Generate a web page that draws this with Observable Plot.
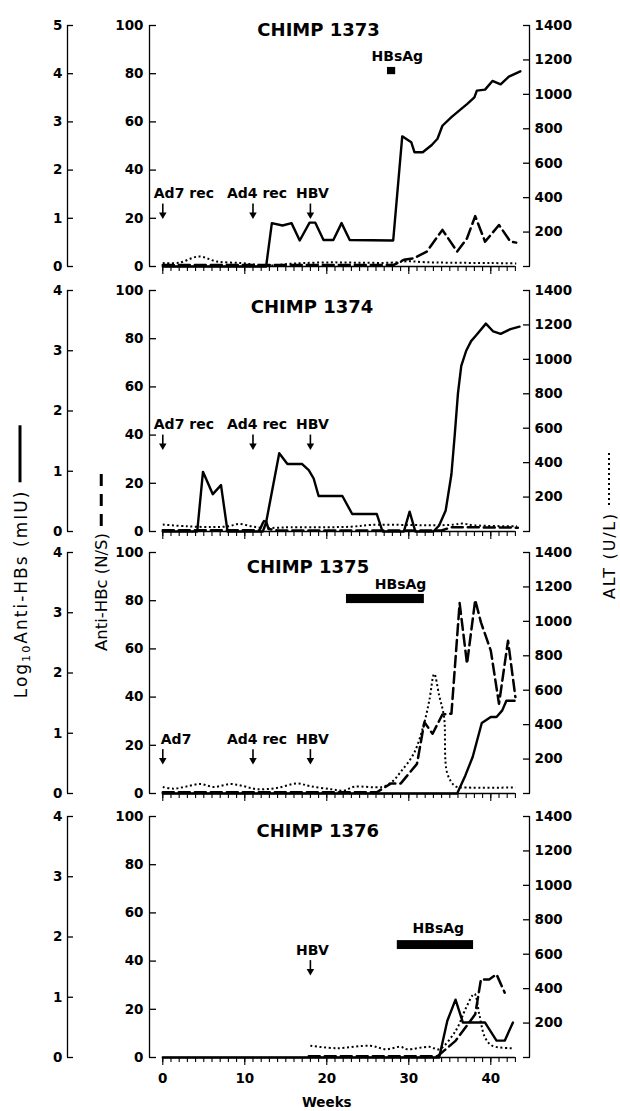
<!DOCTYPE html>
<html>
<head>
<meta charset="utf-8">
<script src="https://cdn.jsdelivr.net/npm/d3@7"></script>
<script src="https://cdn.jsdelivr.net/npm/@observablehq/plot@0.6"></script>
<style>
  html, body { margin: 0; padding: 0; background: #fff; }
  #wrap { position: relative; width: 620px; height: 1111px; overflow: hidden; background: #fff; font-family: "DejaVu Sans", sans-serif; color: #000; }
  .panel { position: absolute; left: 0; width: 620px; }
  .vlab { position: absolute; white-space: nowrap; display: flex; align-items: center; transform: translate(-50%, -50%) rotate(-90deg); line-height: 1; }
  .vlab sub { font-size: 0.66em; vertical-align: -0.3em; line-height: 0; }
  .sym { display: inline-block; margin-left: 7px; position: relative; top: -1px; }
</style>
</head>
<body>
<div id="wrap"></div>
<script>
// ---------------- data ----------------
const chimps = ["CHIMP 1373", "CHIMP 1374", "CHIMP 1375", "CHIMP 1376"];
const weekTicks = d3.range(0, 44);
const decadeTicks = [0, 10, 20, 30, 40];
const hbcTicks = [0, 20, 40, 60, 80, 100];
const altTicks = [0, 200, 400, 600, 800, 1000, 1200, 1400];
const logTicks1373 = [0, 1, 2, 3, 4, 5];
const logTicksOther = [0, 1, 2, 3, 4];

// [week, log10 anti-HBs (mIU)]
const hbs1373 = [[0,0],[12.6,0],[13.3,0.90],[14.6,0.85],[15.7,0.90],[16.7,0.54],[17.9,0.91],[18.6,0.91],[19.6,0.55],[20.8,0.55],[21.8,0.90],[22.8,0.55],[28.1,0.54],[29.2,2.70],[30.3,2.58],[30.7,2.37],[31.7,2.37],[32.8,2.52],[33.5,2.65],[34.1,2.92],[35.2,3.10],[36.4,3.27],[37.1,3.37],[38.0,3.51],[38.3,3.65],[39.3,3.67],[40.2,3.85],[41.2,3.78],[42.2,3.94],[43.6,4.05]];
const hbs1374 = [[0,0],[4.2,0],[4.9,0.99],[6.1,0.62],[7.1,0.77],[7.9,0],[12.2,0],[12.6,0.15],[14.2,1.30],[15.2,1.12],[17.0,1.12],[17.8,1.02],[18.4,0.88],[19.0,0.59],[21.9,0.59],[23.1,0.29],[26.1,0.29],[26.8,0],[29.4,0],[30.1,0.33],[30.8,0],[33.0,0],[33.7,0.1],[34.5,0.35],[35.2,0.95],[35.6,1.6],[36.0,2.3],[36.4,2.75],[37.0,3.0],[37.6,3.16],[38.3,3.27],[39.4,3.45],[40.3,3.32],[41.2,3.28],[42.4,3.36],[43.5,3.4]];
const hbs1375 = [[0,0],[35.9,0],[36.9,0.30],[37.8,0.61],[38.9,1.17],[40.0,1.27],[40.7,1.27],[41.4,1.38],[41.9,1.54],[42.9,1.54]];
const hbs1376 = [[0,0],[33.7,0],[34.7,0.61],[35.7,0.96],[36.6,0.58],[39.3,0.58],[40.7,0.28],[41.7,0.28],[42.7,0.58]];

// [week, anti-HBc (N/S)]
const hbc1373 = [[0,0.6],[28.1,0.6],[29.4,2.8],[30.6,3.4],[32.2,6.2],[34.1,15.2],[35.9,6.2],[37.1,11.7],[38.1,20.9],[39.3,10.3],[41.0,17.2],[42.4,10.3],[43.1,9.9]];
const hbc1374 = [[0,0.5],[11.8,0.5],[12.2,3.5],[12.5,5.2],[12.9,1],[14,0.4],[34,0.4],[35.2,1.8],[43.3,1.6]];
const hbc1375 = [[0,0.5],[26.1,0.5],[27.8,4.1],[29.0,4.1],[31.0,12.3],[31.9,29.6],[32.9,24.8],[34.1,32.8],[35.2,33.1],[36.2,79],[37.1,53.8],[38.1,80.3],[38.8,71],[40.0,59.3],[41.0,37.2],[42.1,63.4],[43.0,40]];
const hbc1376 = [[17.8,0.5],[33.5,0.5],[35.7,6.9],[38.1,17.9],[38.8,32.4],[39.8,32.4],[40.7,34.5],[41.7,26.9]];

// [week, ALT (U/L)]
const alt1373 = [[0,20],[2,22],[4.4,58],[6.6,29],[9.5,20],[11.5,10],[13.5,6],[15.2,15],[17.2,20],[20.4,24],[24,22],[27.8,22],[29.8,30],[32,25],[35,22],[40,20],[43.1,18]];
const alt1374 = [[0,40],[3,30],[6,26],[8,30],[9.3,44],[10.8,30],[12.3,20],[14,22],[15.6,25],[20,25],[23,28],[25.3,38],[30,38],[33,36],[35.5,40],[36.5,46],[38,36],[43.2,30]];
const alt1375 = [[0,38],[1.3,28],[2.8,40],[4.6,55],[6.2,38],[8.3,55],[9.9,42],[11.5,25],[13.9,32],[16.4,58],[18.0,42],[20.5,25],[22.1,17],[23.3,39],[26.8,39],[28.0,70],[29.0,125],[30.6,231],[31.8,396],[32.5,540],[33.1,695],[33.7,570],[34.3,445],[34.7,116],[35.7,42],[37,35],[43,35]];
const alt1376 = [[18,68],[21.2,54],[25.3,68],[27.2,48],[29,62],[29.8,48],[32.5,62],[33.7,48],[35.7,154],[37.0,290],[38.0,370],[38.6,250],[39.3,116],[40.2,68],[42.7,54]];

// inoculation events [week, label]
const events1373 = [[0, "Ad7 rec"], [11, "Ad4 rec"], [18, "HBV"]];
const events1374 = [[0, "Ad7 rec"], [11, "Ad4 rec"], [18, "HBV"]];
const events1375 = [[0, "Ad7"], [11, "Ad4 rec"], [18, "HBV"]];
const events1376 = [[18, "HBV"]];

// HBsAg positive interval [from week, to week]
const hbsag1373 = [27.4, 28.4];
const hbsag1375 = [22.4, 31.9];
const hbsag1376 = [28.6, 37.9];

// ---------------- layout ----------------
const X_DOMAIN = [-1.62, 44.72];
const ML = 149, MR = 91, MT = 25, FH = 241;
const ALT_PER_UNIT = 14; // 1400 U/L on the 0–100 N/S scale

const panels = [
  {title: chimps[0], hbs: hbs1373, hbc: hbc1373, alt: alt1373, events: events1373, hbsag: hbsag1373, logTicks: logTicks1373,
   top: 0, titleX: 19.0, titleY: 95.7, labelY: 28.4, hbsLabelX: 28.6, hbsLabelY: 85.4, barY: [79.6, 82.6]},
  {title: chimps[1], hbs: hbs1374, hbc: hbc1374, alt: alt1374, events: events1374, hbsag: null, logTicks: logTicksOther,
   top: 265, titleX: 18.2, titleY: 90.8, labelY: 42.5},
  {title: chimps[2], hbs: hbs1375, hbc: hbc1375, alt: alt1375, events: events1375, hbsag: hbsag1375, logTicks: logTicksOther,
   top: 527, titleX: 17.7, titleY: 91.4, labelY: 20.7, hbsLabelX: 29.0, hbsLabelY: 84.7, barY: [78.8, 82.6]},
  {title: chimps[3], hbs: hbs1376, hbc: hbc1376, alt: alt1376, events: events1376, hbsag: hbsag1376, logTicks: logTicksOther,
   top: 791, titleX: 18.9, titleY: 91.6, labelY: 42.7, hbsLabelX: 33.6, hbsLabelY: 51.7, barY: [44.8, 48.5], showWeeks: true}
];

function labelOffset(label) {
  if (label.startsWith("Ad4")) return {textAnchor: "start", dx: -26};
  if (label === "Ad7") return {textAnchor: "start", dx: -2};
  if (label.startsWith("Ad7")) return {textAnchor: "start", dx: -9};
  return {textAnchor: "middle", dx: 2};
}

function drawPanel(p) {
  const logMax = p.logTicks[p.logTicks.length - 1];
  const f = 100 / logMax;
  const mb = p.showWeeks ? 1111 - p.top - MT - FH : 16;
  const sw = 1.3;
  const marks = [
    // spines
    Plot.ruleX([X_DOMAIN[0]], {y1: 0, y2: 100, strokeWidth: sw}),
    Plot.ruleX([X_DOMAIN[1]], {y1: 0, y2: 100, strokeWidth: sw}),
    Plot.ruleX([X_DOMAIN[0]], {y1: 0, y2: 100, dx: -82, strokeWidth: sw}),
    Plot.ruleY([0], {x1: weekTicks[0], x2: weekTicks[weekTicks.length - 1], strokeWidth: sw}),
    // log10 anti-HBs axis (outer left)
    Plot.axisY({anchor: "left", ticks: p.logTicks.map(v => v * f), tickFormat: d => String(Math.round(d / f)),
      tickSize: 6, dx: -82 + 6, tickPadding: 5, strokeWidth: sw, label: null}),
    // anti-HBc axis (left)
    Plot.axisY({anchor: "left", ticks: hbcTicks, tickFormat: d => String(d), tickSize: 7, dx: 7, tickPadding: 6, strokeWidth: sw, label: null}),
    // ALT axis (right)
    Plot.axisY({anchor: "right", ticks: altTicks.map(v => v / ALT_PER_UNIT),
      tickFormat: d => { const v = Math.round(d * ALT_PER_UNIT); return v ? String(v) : ""; },
      tickSize: 7, dx: -7, tickPadding: 5, strokeWidth: sw, label: null}),
    // week ticks
    Plot.axisX({ticks: weekTicks, tickSize: 5, tickFormat: () => "", strokeWidth: 1.1, label: null}),
    Plot.axisX({ticks: decadeTicks, tickSize: 8, tickPadding: 8, tickFormat: p.showWeeks ? (d => String(d)) : (() => ""), strokeWidth: 1.1, label: null}),
    // data
    Plot.line(p.alt, {x: d => d[0], y: d => d[1] / ALT_PER_UNIT, stroke: "#000", strokeWidth: 2, strokeDasharray: "2,2.6", strokeLinecap: "butt", curve: "catmull-rom"}),
    Plot.line(p.hbc, {x: d => d[0], y: d => d[1], stroke: "#000", strokeWidth: 2.5, strokeDasharray: "11,5"}),
    Plot.line(p.hbs, {x: d => d[0], y: d => d[1] * f, stroke: "#000", strokeWidth: 2.4, strokeLinejoin: "round"}),
    // title
    Plot.text([p.title], {x: p.titleX, y: p.titleY, text: d => d, lineAnchor: "bottom", fontSize: 18, fontWeight: "bold"}),
    // arrows
    Plot.ruleX(p.events, {x: d => d[0], y1: p.labelY - 2.5, y2: p.labelY - 6.9, strokeWidth: 1.6}),
    Plot.dot(p.events, {x: d => d[0], y: p.labelY - 6.9, symbol: "triangle", rotate: 180, r: 2.8, fill: "#000", stroke: null})
  ];
  for (const e of p.events) {
    marks.push(Plot.text([e], {x: d => d[0], y: p.labelY, text: d => d[1], lineAnchor: "bottom", fontSize: 14, fontWeight: "bold", ...labelOffset(e[1])}));
  }
  if (p.hbsag) {
    marks.push(Plot.rect([p.hbsag], {x1: d => d[0], x2: d => d[1], y1: p.barY[0], y2: p.barY[1], fill: "#000"}));
    marks.push(Plot.text(["HBsAg"], {x: p.hbsLabelX, y: p.hbsLabelY, text: d => d, lineAnchor: "bottom", fontSize: 14, fontWeight: "bold"}));
  }
  if (p.showWeeks) {
    marks.push(Plot.text(["Weeks"], {x: d3.mean([decadeTicks[0], decadeTicks[decadeTicks.length - 1]]), frameAnchor: "bottom", dy: 40, lineAnchor: "top", text: d => d, fontSize: 13.5, fontWeight: "bold"}));
  }
  const svg = Plot.plot({
    width: 620,
    height: MT + FH + mb,
    marginLeft: ML, marginRight: MR, marginTop: MT, marginBottom: mb,
    x: {domain: X_DOMAIN},
    y: {domain: [0, 100]},
    style: {background: "transparent", overflow: "visible", fontFamily: "'DejaVu Sans', sans-serif", fontSize: "13.5px", fontWeight: "bold", color: "#000"},
    marks
  });
  const div = document.createElement("div");
  div.className = "panel";
  div.style.top = p.top + "px";
  div.appendChild(svg);
  document.getElementById("wrap").appendChild(div);
}

panels.forEach(drawPanel);

// vertical axis titles with line-style keys
function vlabel(html, cx, cy, fontSize, letterSpacing, symStyle) {
  const d = document.createElement("div");
  d.className = "vlab";
  d.style.left = cx + "px";
  d.style.top = cy + "px";
  d.style.fontSize = fontSize + "px";
  const t = document.createElement("span");
  t.style.letterSpacing = letterSpacing + "px";
  t.innerHTML = html;
  const s = document.createElement("span");
  s.className = "sym";
  Object.assign(s.style, symStyle);
  d.appendChild(t);
  d.appendChild(s);
  document.getElementById("wrap").appendChild(d);
}
vlabel("Log<sub>10</sub>Anti-HBs (mIU)", 21, 562, 17, 2,
  {width: "57px", height: "3px", background: "#000"});
vlabel("Anti-HBc (N/S)", 102, 560, 16.5, 0,
  {width: "57px", height: "3px", background: "repeating-linear-gradient(to right, #000 0 12px, transparent 12px 20px)"});
vlabel("ALT (U/L)", 610, 525, 16, 1.8,
  {width: "54px", height: "2.5px", background: "repeating-linear-gradient(to right, #000 0 2.5px, transparent 2.5px 5px)"});
</script>
</body>
</html>
